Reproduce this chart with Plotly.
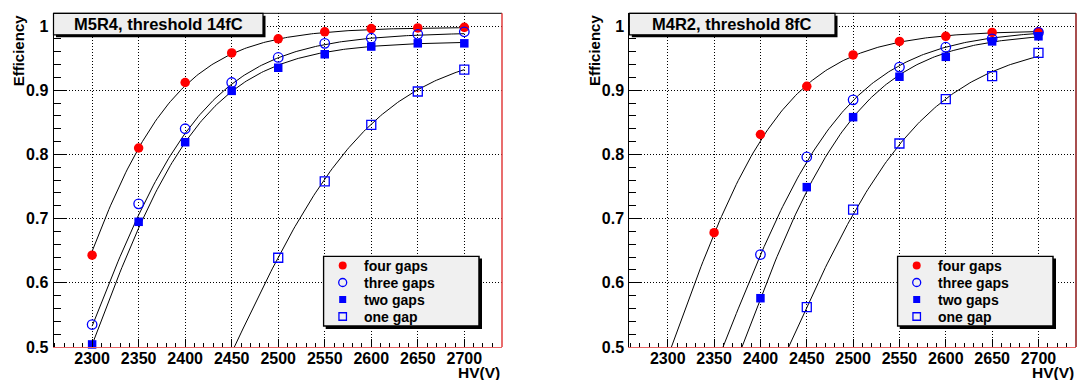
import numpy as np
import plotly.graph_objects as go

# ---------------- data ----------------
hv = [2300, 2350, 2400, 2450, 2500, 2550, 2600, 2650, 2700]
series_names = ["four gaps", "three gaps", "two gaps", "one gap"]
panel_titles = ["M5R4, threshold 14fC", "M4R2, threshold 8fC"]

# M5R4, threshold 14fC
m5r4_four = [0.643, 0.810, 0.912, 0.958, 0.980, 0.991, 0.996, 0.997, 0.998]
m5r4_three = [0.535, 0.723, 0.840, 0.912, 0.951, 0.973, 0.981, 0.987, 0.991]
m5r4_two = [0.504, 0.695, 0.819, 0.899, 0.935, 0.956, 0.968, 0.973, 0.973]
m5r4_one = [None, None, None, None, 0.639, 0.758, 0.846, 0.898, 0.932]

# M4R2, threshold 8fC
m4r2_four = [None, 0.678, 0.831, 0.906, 0.955, 0.976, 0.984, 0.990, 0.991]
m4r2_three = [None, None, 0.644, 0.796, 0.885, 0.936, 0.967, 0.980, 0.990]
m4r2_two = [None, None, 0.576, 0.749, 0.858, 0.921, 0.952, 0.976, 0.984]
m4r2_one = [None, None, None, 0.562, 0.714, 0.817, 0.886, 0.922, 0.958]

# sigmoid fit parameters (plateau, HV at half plateau, width) per series
m5r4_plateau = [0.998, 0.990, 0.976, 0.970]
m5r4_hv50 = [2263.0, 2290.0, 2296.0, 2448.0]
m5r4_width = [59.6, 66.0, 63.0, 78.7]
m4r2_plateau = [0.993, 0.995, 0.990, 0.980]
m4r2_hv50 = [2303.0, 2359.0, 2378.5, 2427.0]
m4r2_width = [62.0, 68.0, 65.0, 76.9]

x_tick_vals = [2300, 2350, 2400, 2450, 2500, 2550, 2600, 2650, 2700]
x_tick_text = ["2300", "2350", "2400", "2450", "2500", "2550", "2600", "2650", "2700"]
y_tick_vals = [0.5, 0.6, 0.7, 0.8, 0.9, 1.0]
y_tick_text = ["0.5", "0.6", "0.7", "0.8", "0.9", "1"]
x_title = "HV(V)"
y_title = "Efficiency"

# ---------------- styles / layout constants ----------------
W, H = 1077, 380
FONT = "Liberation Sans, Arial, Helvetica, sans-serif"
X_RANGE = [2258.5, 2740.5]
Y_RANGE = [0.5, 1.0198]
FRAMES = [(53.5, 502.0), (629.3, 1076.0)]
FRAME_TOP, FRAME_BOTTOM = 13.3, 347.0
RIGHT_COLORS = ["#e23c3c", "#8b1414"]
BOTTOM_COLOR = "#e86464"
TITLE_BOX_RIGHT = [263.0, 835.0]
TITLE_BOX_BOTTOM = 34.8
LEG_W, LEG_H, LEG_TOP, LEG_RIGHT_GAP = 156.3, 70.5, 255.5, 23.0
SHADOW = 3.0
ROW0, ROW_STEP, SYM_X, TXT_X = 10.0, 17.0, 20.0, 39.5

RED, BLUE = "#ff0000", "#0000ff"
marker_styles = [
    dict(symbol="circle", color=RED, size=9.5, line=dict(width=0)),
    dict(symbol="circle-open", color=BLUE, size=9.5, line=dict(width=1.3, color=BLUE)),
    dict(symbol="square", color=BLUE, size=8.5, line=dict(width=0)),
    dict(symbol="square-open", color=BLUE, size=9, line=dict(width=1.3, color=BLUE)),
]


def px(x):
    return x / W


def py(y):
    return 1 - y / H


def sigmoid(v, a, h, w):
    return a / (1.0 + np.exp(-(v - h) / w))


panels = [
    dict(values=[m5r4_four, m5r4_three, m5r4_two, m5r4_one],
         plateau=m5r4_plateau, hv50=m5r4_hv50, width=m5r4_width),
    dict(values=[m4r2_four, m4r2_three, m4r2_two, m4r2_one],
         plateau=m4r2_plateau, hv50=m4r2_hv50, width=m4r2_width),
]

fig = go.Figure()
hv_fit = np.linspace(hv[0], hv[-1], 201)

shapes, annotations = [], []
layout_axes = {}

for p, panel in enumerate(panels):
    xa = "x" if p == 0 else "x2"
    ya = "y" if p == 0 else "y2"
    fl, fr = FRAMES[p]

    # fit curves
    for i in range(len(series_names)):
        fig.add_trace(go.Scatter(
            x=hv_fit,
            y=sigmoid(hv_fit, panel["plateau"][i], panel["hv50"][i], panel["width"][i]),
            mode="lines", line=dict(color="black", width=1),
            xaxis=xa, yaxis=ya, showlegend=False, hoverinfo="skip"))
    # data points
    for i, name in enumerate(series_names):
        fig.add_trace(go.Scatter(
            x=hv, y=panel["values"][i], mode="markers", name=name,
            marker=marker_styles[i], cliponaxis=False,
            xaxis=xa, yaxis=ya, showlegend=False))

    tick_font = dict(family=FONT, size=16, color="black", weight="bold")
    xkey = "xaxis" if p == 0 else "xaxis2"
    ykey = "yaxis" if p == 0 else "yaxis2"
    layout_axes[xkey] = dict(
        domain=[px(fl), px(fr)], range=X_RANGE, anchor=ya, automargin=False,
        tickmode="array", tickvals=x_tick_vals, ticktext=x_tick_text,
        ticks="inside", ticklen=8, tickcolor="black", tickwidth=1,
        minor=dict(dtick=10, tick0=2300, ticks="inside", ticklen=4.5,
                   tickcolor="black", tickwidth=1, showgrid=False),
        showgrid=True, gridcolor="black", gridwidth=1, griddash="1px,2px",
        showline=True, linecolor=BOTTOM_COLOR, linewidth=1,
        zeroline=False, tickfont=tick_font, ticklabelstandoff=-3)
    layout_axes[ykey] = dict(
        domain=[py(FRAME_BOTTOM), py(FRAME_TOP)], range=Y_RANGE, anchor=xa,
        automargin=False,
        tickmode="array", tickvals=y_tick_vals, ticktext=y_tick_text,
        ticks="inside", ticklen=13, tickcolor="black", tickwidth=1,
        minor=dict(dtick=0.02, tick0=0.5, ticks="inside", ticklen=7,
                   tickcolor="black", tickwidth=1, showgrid=False),
        showgrid=True, gridcolor="black", gridwidth=1, griddash="1px,2px",
        showline=True, linecolor="black", linewidth=1,
        zeroline=False, tickfont=tick_font, ticklabelstandoff=1)

    # frame: top (black) and right (red)
    shapes.append(dict(type="line", xref="paper", yref="paper", layer="above",
                       x0=px(fl), x1=px(fr), y0=py(FRAME_TOP), y1=py(FRAME_TOP),
                       line=dict(color="black", width=1)))
    shapes.append(dict(type="line", xref="paper", yref="paper", layer="above",
                       x0=px(fr), x1=px(fr), y0=py(FRAME_TOP), y1=py(FRAME_BOTTOM),
                       line=dict(color=RIGHT_COLORS[p], width=1.5)))

    # title box with shadow
    tb_r = TITLE_BOX_RIGHT[p]
    shapes.append(dict(type="rect", xref="paper", yref="paper", layer="above",
                       x0=px(fl + 2.5), x1=px(tb_r + 2.5),
                       y0=py(TITLE_BOX_BOTTOM + 2.5), y1=py(FRAME_TOP + 2.5),
                       fillcolor="black", line=dict(width=0)))
    shapes.append(dict(type="rect", xref="paper", yref="paper", layer="above",
                       x0=px(fl), x1=px(tb_r),
                       y0=py(TITLE_BOX_BOTTOM), y1=py(FRAME_TOP),
                       fillcolor="#eeeeee", line=dict(color="black", width=1.2)))
    annotations.append(dict(
        text=panel_titles[p], xref="paper", yref="paper", showarrow=False,
        x=px((fl + tb_r) / 2), y=py((FRAME_TOP + TITLE_BOX_BOTTOM) / 2),
        xanchor="center", yanchor="middle",
        font=dict(family=FONT, size=16.5, color="black", weight="bold")))

    # axis titles
    annotations.append(dict(
        text=y_title, xref="paper", yref="paper", showarrow=False, textangle=-90,
        x=px(fl - 35.5), y=py(FRAME_TOP - 1), xanchor="center", yanchor="top",
        font=dict(family=FONT, size=15, color="black", weight="bold")))
    annotations.append(dict(
        text=x_title, xref="paper", yref="paper", showarrow=False,
        x=px(fr), y=py(372.5), xanchor="right", yanchor="middle",
        font=dict(family=FONT, size=15.5, color="black", weight="bold")))

    # legend drawn on its own small overlay axes
    lxa = "x3" if p == 0 else "x4"
    lya = "y3" if p == 0 else "y4"
    lx0 = fr - LEG_RIGHT_GAP - LEG_W
    layout_axes["xaxis3" if p == 0 else "xaxis4"] = dict(
        domain=[px(lx0), px(lx0 + LEG_W + SHADOW)], range=[0, LEG_W + SHADOW],
        anchor=lya, visible=False, fixedrange=True, automargin=False)
    layout_axes["yaxis3" if p == 0 else "yaxis4"] = dict(
        domain=[py(LEG_TOP + LEG_H + SHADOW), py(LEG_TOP)], range=[LEG_H + SHADOW, 0],
        anchor=lxa, visible=False, fixedrange=True, automargin=False)
    shapes.append(dict(type="rect", xref=lxa, yref=lya, layer="below",
                       x0=SHADOW, x1=LEG_W + SHADOW, y0=SHADOW, y1=LEG_H + SHADOW,
                       fillcolor="black", line=dict(width=0)))
    shapes.append(dict(type="rect", xref=lxa, yref=lya, layer="below",
                       x0=0.8, x1=LEG_W, y0=0.8, y1=LEG_H,
                       fillcolor="#f0f0f0", line=dict(color="black", width=1.5)))
    for r, name in enumerate(series_names):
        st = dict(marker_styles[r])
        st["size"] = st["size"] - 1.5
        fig.add_trace(go.Scatter(
            x=[SYM_X], y=[ROW0 + ROW_STEP * r], mode="markers", marker=st,
            xaxis=lxa, yaxis=lya, showlegend=False, hoverinfo="skip"))
        annotations.append(dict(
            text=name, xref=lxa, yref=lya, showarrow=False,
            x=TXT_X, y=ROW0 + ROW_STEP * r, xanchor="left", yanchor="middle",
            font=dict(family=FONT, size=14, color="black", weight="bold")))

fig.update_layout(
    width=W, height=H, margin=dict(l=0, r=0, t=0, b=0, pad=0, autoexpand=False),
    paper_bgcolor="white", plot_bgcolor="white", showlegend=False,
    shapes=shapes, annotations=annotations, **layout_axes)

fig.write_html("out.html",
               config={"displayModeBar": False, "staticPlot": True},
               post_script="document.body.style.margin='0';"
                           "document.body.style.overflow='hidden';")
